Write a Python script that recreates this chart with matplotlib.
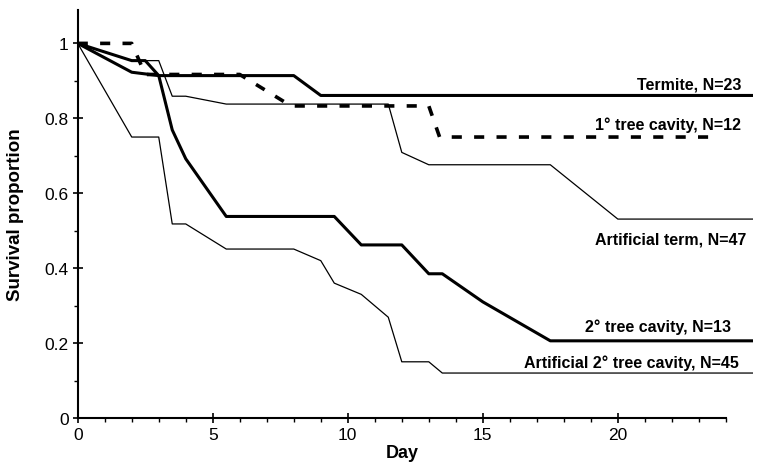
import numpy as np
import matplotlib
matplotlib.use("Agg")
import matplotlib.pyplot as plt
import matplotlib as mpl

mpl.rcParams['font.family'] = ['Liberation Sans', 'DejaVu Sans']

# survival curves, (day, proportion)
termite_day = [0, 2, 3, 8, 9, 25]
termite_surv = [1.0, 0.923, 0.914, 0.914, 0.861, 0.861]

tree1_day = [0, 2, 2.5, 6, 7.9, 13, 13.4, 23.5]
tree1_surv = [1.0, 1.0, 0.917, 0.917, 0.833, 0.833, 0.75, 0.75]

artterm_day = [0, 2, 3, 3.5, 4, 5.5, 11.5, 12, 13, 17.5, 20, 25]
artterm_surv = [1.0, 0.954, 0.954, 0.859, 0.859, 0.838, 0.838, 0.709, 0.676, 0.676, 0.531, 0.531]

tree2_day = [0, 2, 2.5, 3, 3.5, 4, 5.5, 9.5, 10.5, 12, 13, 13.5, 15, 17.5, 25]
tree2_surv = [1.0, 0.954, 0.954, 0.914, 0.769, 0.692, 0.538, 0.538, 0.462, 0.462, 0.385, 0.385, 0.31, 0.206, 0.206]

art2_day = [0, 2, 3, 3.5, 4, 5.5, 8, 9, 9.5, 10.5, 11.5, 12, 13, 13.5, 25]
art2_surv = [1.0, 0.75, 0.75, 0.518, 0.518, 0.451, 0.451, 0.42, 0.36, 0.33, 0.269, 0.15, 0.15, 0.12, 0.12]

labels = ["Termite, N=23", "1\u00b0 tree cavity, N=12", "Artificial term, N=47",
          "2\u00b0 tree cavity, N=13", "Artificial 2\u00b0 tree cavity, N=45"]
label_x = [24.58, 24.55, 24.75, 24.2, 24.5]
label_y = [0.892, 0.785, 0.478, 0.246, 0.149]

fig = plt.figure(figsize=(7.62, 4.64), dpi=100)
ax = fig.add_axes([0.102, 0.097, 0.886, 0.88])

ax.plot(art2_day, art2_surv, color="k", lw=0.9)
ax.plot(artterm_day, artterm_surv, color="k", lw=0.9)
ax.plot(tree2_day, tree2_surv, color="k", lw=2.2)
ax.plot(termite_day, termite_surv, color="k", lw=2.2)
ax.plot(tree1_day, tree1_surv, color="k", lw=2.6, dashes=(2.8, 3.4), dash_capstyle="butt")

for lab, lx, ly in zip(labels, label_x, label_y):
    ax.text(lx, ly, lab, ha="right", va="center", fontsize=11.5, fontweight="bold")

ax.set_xlim(0, 25)
ax.set_ylim(0, 1.09)
ax.spines['top'].set_visible(False)
ax.spines['right'].set_visible(False)
ax.spines['bottom'].set_bounds(0, 24)
ax.spines['left'].set_linewidth(1.5)
ax.spines['bottom'].set_linewidth(1.5)

ax.set_xticks([0, 5, 10, 15, 20])
ax.set_xticks(np.arange(0, 25, 1), minor=True)
ax.set_yticks([0, 0.2, 0.4, 0.6, 0.8, 1.0])
ax.set_yticklabels(["0", "0.2", "0.4", "0.6", "0.8", "1"])
ax.set_yticks([0.1, 0.3, 0.5, 0.7, 0.9], minor=True)
ax.tick_params(which="major", direction="inout", length=7, width=1.2, labelsize=12.5, pad=3)
ax.tick_params(which="minor", direction="out", length=3, width=1)

ax.set_xlabel("Day", fontsize=13, fontweight="bold")
ax.set_ylabel("Survival proportion", fontsize=13.5, fontweight="bold")
ax.xaxis.set_label_coords(12.0 / 25, -0.064)
ax.yaxis.set_label_coords(-0.08, 0.5)

fig.savefig("out.png", dpi=100)
